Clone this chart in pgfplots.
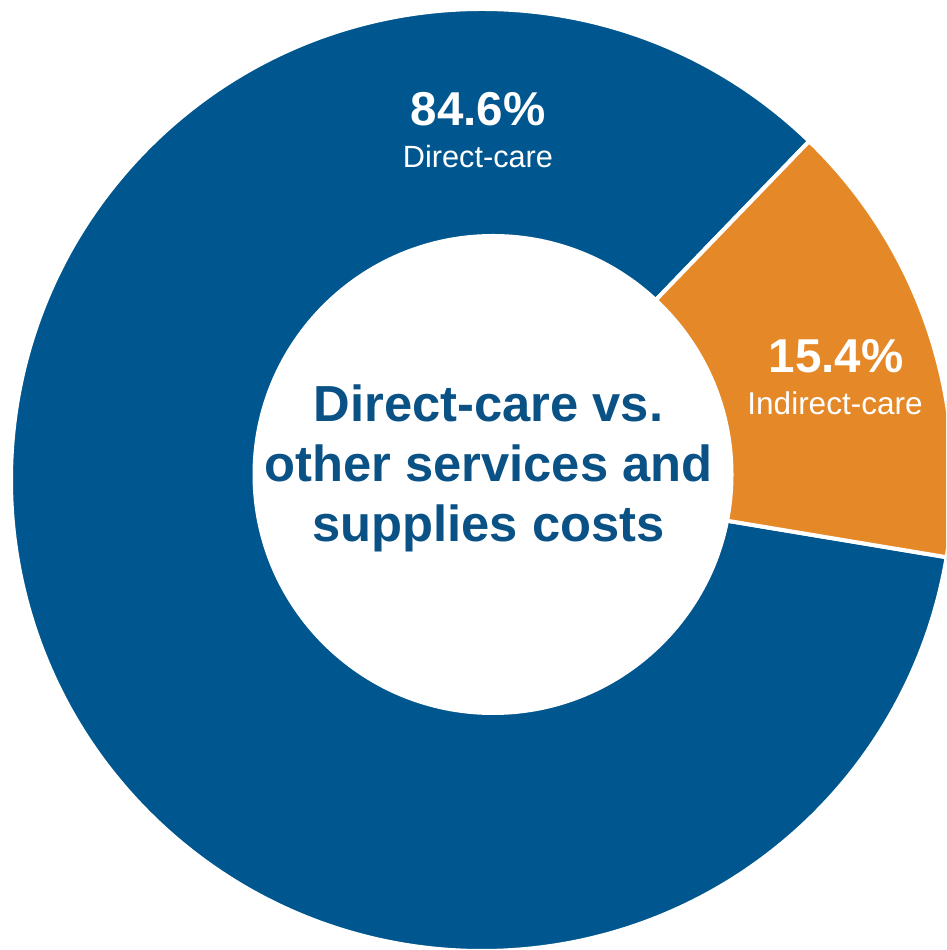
\documentclass[border=0pt]{standalone}
\usepackage{pgfplots}
\usepackage{pgfplotstable}
\usepackage{fontspec}
\setmainfont{Liberation Sans}
\pgfplotsset{compat=1.18}

\definecolor{careblue}{RGB}{0,87,143}
\definecolor{careorange}{RGB}{229,136,39}
\definecolor{titleblue}{RGB}{10,82,133}

% share of costs, in percent
\pgfplotstableread{
value
84.6
15.4
}\shares

\begin{document}
\begin{tikzpicture}
% slice angles (counter-clockwise, starting at the upper split line)
\pgfplotstablegetelem{0}{value}\of\shares \let\va\pgfplotsretval
\pgfplotstablegetelem{1}{value}\of\shares \let\vb\pgfplotsretval
\pgfmathsetmacro\aStart{46}
\pgfmathsetmacro\aMid{\aStart+3.6*\va}
\pgfmathsetmacro\aEnd{\aMid+3.6*\vb}
\begin{axis}[
    x=1pt, y=1pt,
    xmin=0, xmax=946, ymin=0, ymax=950,
    hide axis,
    clip=true,
]
    % donut slices
    \fill[careblue, draw=white, line width=4pt]
        (axis cs:482,470) -- ++(\aStart:471pt)
        arc[start angle=\aStart, end angle=\aMid, radius=471pt] -- cycle;
    \fill[careorange, draw=white, line width=4pt]
        (axis cs:482,470) -- ++(\aMid:471pt)
        arc[start angle=\aMid, end angle=\aEnd, radius=471pt] -- cycle;
    % hole
    \fill[white] (axis cs:493,475.5) circle[radius=240.5pt];

    % slice labels
    \node[anchor=base, text=white, font=\fontsize{47.5}{50}\selectfont\bfseries]
        at (axis cs:478,824) {\va\%};
    \node[anchor=base, text=white, font=\fontsize{30.7}{34}\selectfont]
        at (axis cs:478,782) {Direct-care};
    \node[anchor=base, text=white, font=\fontsize{47.5}{50}\selectfont\bfseries]
        at (axis cs:836,577) {\vb\%};
    \node[anchor=base, text=white, font=\fontsize{31.5}{34}\selectfont]
        at (axis cs:835,535) {Indirect-care};

    % centre title
    \node[anchor=base, text=titleblue, font=\fontsize{50.7}{60}\selectfont\bfseries]
        at (axis cs:488.5,528.3) {Direct-care vs.};
    \node[anchor=base, text=titleblue, font=\fontsize{50.7}{60}\selectfont\bfseries]
        at (axis cs:488.5,468.3) {other services and};
    \node[anchor=base, text=titleblue, font=\fontsize{50.7}{60}\selectfont\bfseries]
        at (axis cs:488.5,408.3) {supplies costs};
\end{axis}
\pgfresetboundingbox
\path[use as bounding box] (current axis.south west) rectangle (current axis.north east);
\end{tikzpicture}
\end{document}
